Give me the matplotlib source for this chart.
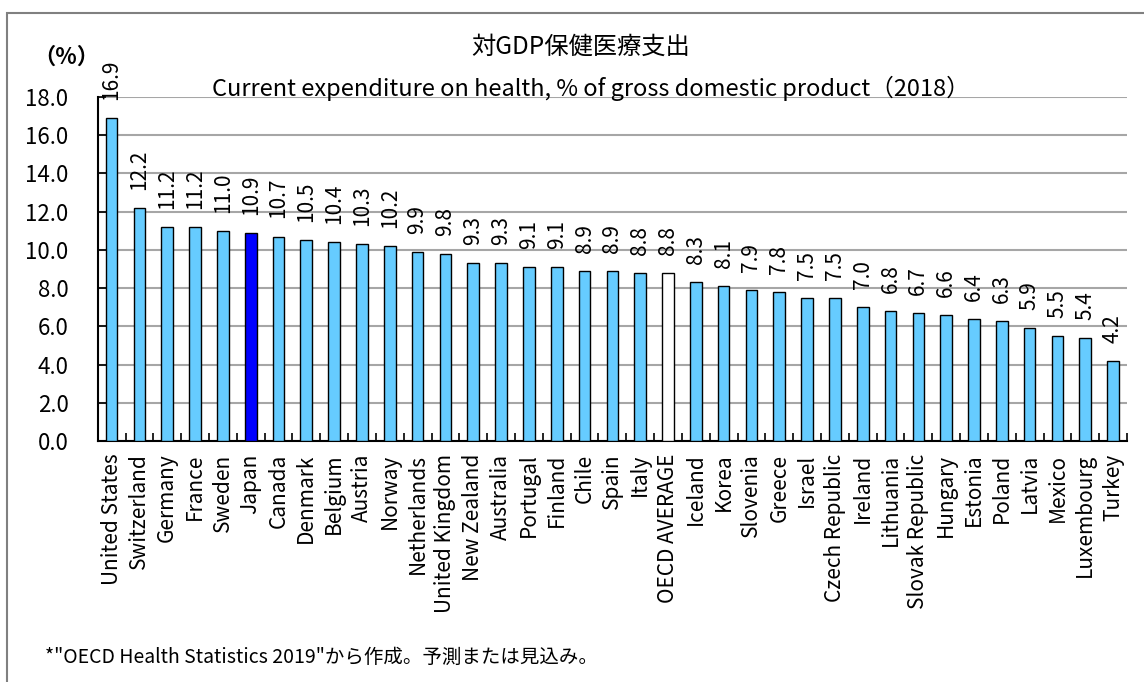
import matplotlib
matplotlib.use("Agg")
import matplotlib.pyplot as plt
import matplotlib.patches as mpatches
import numpy as np

plt.rcParams['font.family'] = ['Noto Sans CJK JP', 'DejaVu Sans']

# Data ------------------------------------------------------------------------
countries = ["United States", "Switzerland", "Germany", "France", "Sweden",
             "Japan", "Canada", "Denmark", "Belgium", "Austria", "Norway",
             "Netherlands", "United Kingdom", "New Zealand", "Australia",
             "Portugal", "Finland", "Chile", "Spain", "Italy", "OECD AVERAGE",
             "Iceland", "Korea", "Slovenia", "Greece", "Israel",
             "Czech Republic", "Ireland", "Lithuania", "Slovak Republic",
             "Hungary", "Estonia", "Poland", "Latvia", "Mexico", "Luxembourg",
             "Turkey"]
values = [16.9, 12.2, 11.2, 11.2, 11.0, 10.9, 10.7, 10.5, 10.4, 10.3, 10.2,
          9.9, 9.8, 9.3, 9.3, 9.1, 9.1, 8.9, 8.9, 8.8, 8.8, 8.3, 8.1, 7.9,
          7.8, 7.5, 7.5, 7.0, 6.8, 6.7, 6.6, 6.4, 6.3, 5.9, 5.5, 5.4, 4.2]
yticks = [0, 2, 4, 6, 8, 10, 12, 14, 16, 18]

title_jp = "対GDP保健医療支出"
title_en = "Current expenditure on health, % of gross domestic product（2018）"
note = "*\"OECD Health Statistics 2019\"から作成。予測または見込み。"

# Figure ----------------------------------------------------------------------
W, H = 1144, 682
fig = plt.figure(figsize=(W/100, H/100), dpi=100)
ax = fig.add_axes([97.7/W, 1-441/H, (1127-97.7)/W, (441-97)/H])

colors = []
for c in countries:
	if c == "Japan":
		colors.append("#0000FF")
	elif c == "OECD AVERAGE":
		colors.append("#FFFFFF")
	else:
		colors.append("#66CCFF")

x = np.arange(len(countries))
ax.bar(x, values, width=0.42, color=colors, edgecolor="black", linewidth=1.0, zorder=3)

for xi, v in zip(x, values):
	ax.annotate("%.1f" % v, (xi, v), xytext=(0, 13), textcoords="offset points",
	            rotation=90, ha="center", va="bottom", fontsize=15, zorder=4,
	            annotation_clip=False)

ax.set_xlim(-0.5, len(countries)-0.5)
ax.set_ylim(0, 18)
ax.set_yticks(yticks)
ax.set_yticklabels(["%.1f" % t for t in yticks], fontsize=16)
ax.yaxis.grid(True, color="#A6A6A6", linewidth=1.5, zorder=0)
ax.set_axisbelow(True)

ax.set_xticks(x)
ax.set_xticklabels(countries, rotation=90, fontsize=15)
ax.set_xticks(np.arange(-0.5, len(countries), 1.0), minor=True)
ax.tick_params(axis="x", which="major", length=0, pad=9)
ax.tick_params(axis="x", which="minor", direction="in", length=6, width=1.2)
ax.tick_params(axis="y", direction="in", length=6, width=1.2, pad=21)

for s in ["top", "right"]:
	ax.spines[s].set_visible(False)
for s in ["left", "bottom"]:
	ax.spines[s].set_linewidth(1.5)

# Titles and notes ------------------------------------------------------------
fig.text(581/W, 1-47/H, title_jp, ha="center", va="center", fontsize=17.5)
fig.text(591/W, 1-88/H, title_en, ha="center", va="center", fontsize=17)
fig.text(66/W, 1-57/H, "（%）", ha="center", va="center", fontsize=16, fontweight="bold")
fig.text(45/W, 1-657/H, note, ha="left", va="center", fontsize=14)

# Outer frame
frame = mpatches.Rectangle((7/W, -0.1), 1.2, 1+0.1-13/H, transform=fig.transFigure,
                           fill=False, edgecolor="#808080", linewidth=1.5)
fig.patches.append(frame)

fig.savefig("out.png", dpi=100)
